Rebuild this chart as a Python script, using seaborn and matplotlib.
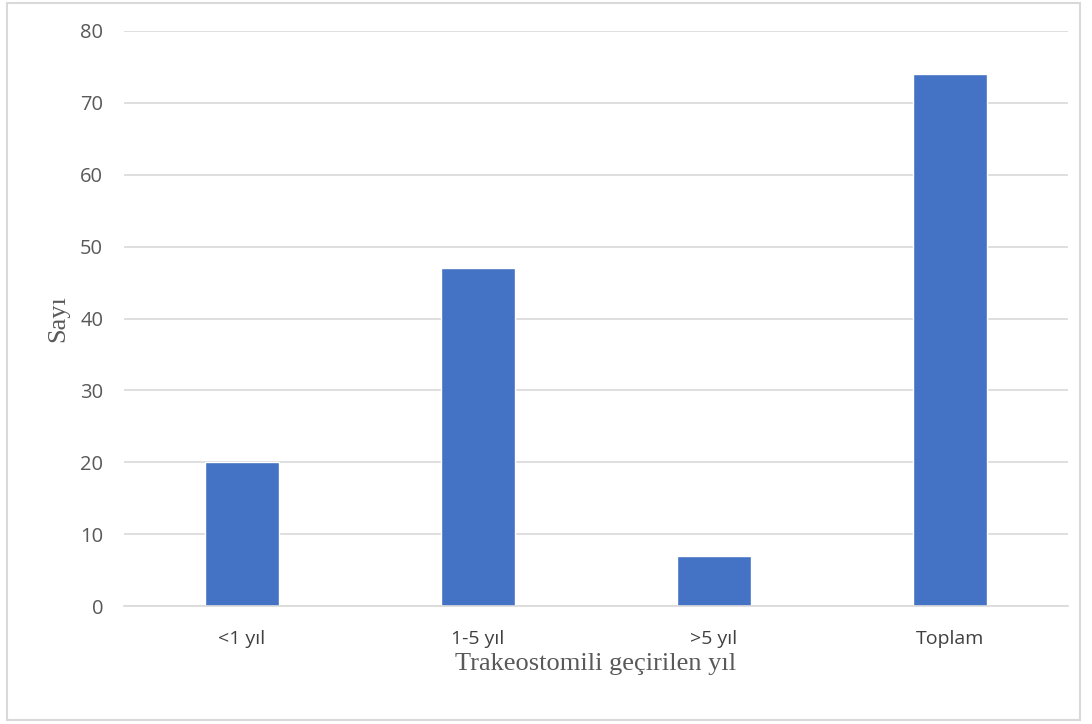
import matplotlib
matplotlib.use("Agg")
import matplotlib.pyplot as plt
from matplotlib.patches import Rectangle
import seaborn as sns
import pandas as pd

categories = ["<1 yıl", "1-5 yıl", ">5 yıl", "Toplam"]
counts = [20, 47, 7, 74]
y_ticks = [0, 10, 20, 30, 40, 50, 60, 70, 80]

sns.set_theme(style="white")
plt.rcParams["font.family"] = ["Open Sans", "DejaVu Sans"]

df = pd.DataFrame({"kategori": categories, "sayi": counts})

fig = plt.figure(figsize=(10.92, 7.24), dpi=100)
ax = fig.add_axes([124 / 1092, 1 - 606 / 724, 944 / 1092, 575 / 724])

sns.barplot(data=df, x="kategori", y="sayi", color="#4472C4", saturation=1,
            width=0.31, ax=ax)

ax.set_ylim(0, 80)
ax.set_xlim(-0.5, 3.5)
ax.set_yticks(y_ticks)
ax.yaxis.grid(True, color="#D9D9D9", linewidth=1.2)
ax.set_axisbelow(True)
for s in ["top", "right", "left"]:
    ax.spines[s].set_visible(False)
ax.spines["bottom"].set_color("#D9D9D9")
ax.spines["bottom"].set_linewidth(1.2)
ax.tick_params(axis="y", length=0, pad=15, labelsize=14.5, labelcolor="#595959")
ax.tick_params(axis="x", length=0, pad=17, labelsize=14, labelcolor="#404040")

ax.set_xlabel("Trakeostomili geçirilen yıl", family="Liberation Serif",
              fontsize=19, color="#595959", labelpad=4)
ax.set_ylabel("Sayı", family="Liberation Serif", fontsize=19,
              color="#595959", labelpad=8)

fig.patches.append(Rectangle((7 / 1092, 4 / 724), 1073 / 1092, 717 / 724,
                             transform=fig.transFigure, fill=False,
                             edgecolor="#D9D9D9", linewidth=1.5))

fig.savefig("out.png", dpi=100)
